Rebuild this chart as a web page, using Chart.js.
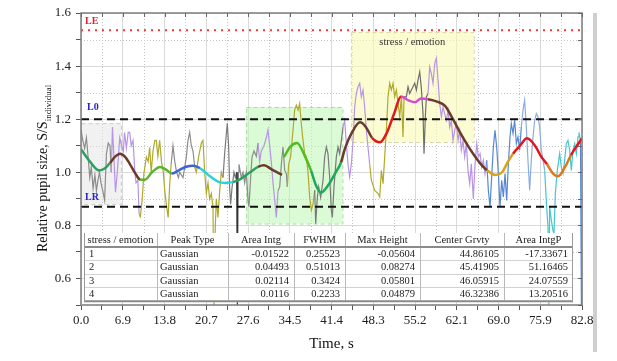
<!DOCTYPE html>
<html>
<head>
<meta charset="utf-8">
<script src="https://cdn.jsdelivr.net/npm/chart.js@4"></script>
<style>
html, body { margin: 0; padding: 0; background: #fff; }
</style>
</head>
<body>
<canvas id="myChart" width="617" height="361"></canvas>
<script>
const SERIF = '"Liberation Serif", "Times New Roman", serif';

// raw pupil signal (time, s / relative size)
const rawT = [0.0,0.3,0.6,0.9,1.2,1.45,1.7,2.0,2.3,2.55,2.8,3.05,3.3,3.6,3.9,4.2,4.5,4.8,5.0,5.2,5.45,5.7,6.0,6.4,6.7,7.0,7.2,7.5,7.8,8.05,8.3,8.6,8.9,9.1,9.4,9.6,9.8,
  10.1,10.4,10.8,11.1,11.35,11.6,11.9,12.2,12.45,12.7,13.0,13.3,13.6,13.85,14.1,14.4,14.65,14.9,15.2,15.5,15.8,16.1,16.3,16.86,17.41,17.68,17.96,18.23,18.51,18.8,19.06,19.45,19.89,
  20.16,20.44,20.71,20.99,21.26,21.54,21.81,21.98,22.2,22.37,22.64,22.92,23.19,23.47,23.74,24.02,24.18,24.4,24.57,24.73,24.95,25.28,25.5,25.73,25.84,25.95,26.11,26.5,26.77,27.05,27.32,27.6,27.76,28.04,28.26,28.59,28.98,29.25,29.53,29.8,
  30.24,30.63,30.9,31.18,31.45,31.73,32.0,32.28,32.56,32.84,33.11,33.39,33.66,33.94,34.1,34.32,34.65,35.04,35.31,35.59,35.87,36.14,36.42,36.69,36.97,37.24,37.52,37.79,38.07,38.34,38.62,38.79,39.06,39.28,39.61,
  40.0,40.27,40.55,40.82,41.1,41.37,41.54,41.81,42.2,42.48,42.75,43.03,43.3,43.58,43.85,44.13,44.4,44.68,44.96,45.23,45.51,45.78,46.06,46.33,46.61,46.88,47.16,47.43,47.71,47.99,48.54,49.09,49.37,49.64,49.92,
  50.19,50.47,50.74,51.02,51.29,51.57,51.84,52.12,52.4,52.67,52.95,53.22,53.39,53.77,54.05,54.32,54.6,54.87,55.15,55.43,55.7,55.98,56.25,56.53,56.69,56.91,57.08,57.35,57.63,57.9,58.18,58.46,58.73,59.01,59.28,59.56,59.83,
  60.11,60.38,60.66,60.93,61.21,61.48,61.76,62.04,62.31,62.59,62.86,63.14,63.41,63.69,63.96,64.24,64.51,64.84,65.12,65.4,65.67,65.95,66.22,66.5,66.77,67.05,67.32,67.6,67.87,68.15,68.42,68.7,68.98,69.25,69.53,69.8,
  70.08,70.35,70.63,70.9,71.12,71.4,71.67,71.95,72.22,72.5,72.77,73.05,73.32,73.6,73.87,74.15,74.42,74.7,74.98,75.25,75.53,75.8,76.08,76.35,76.63,76.9,77.18,77.34,77.45,77.73,78.0,78.17,78.39,78.72,79.11,79.38,79.66,79.93,
  80.21,80.48,80.76,81.04,81.31,81.59,81.86,82.14,82.3,82.55,82.7];
const rawV = [1.16,1.12,1.09,1.13,1.05,0.98,1.02,0.94,0.99,0.93,0.97,1.0,0.96,0.93,0.895,1.07,1.11,1.10,1.0,1.17,1.05,0.925,1.0,1.13,1.10,1.08,1.15,1.09,1.15,1.15,1.10,1.12,1.0,0.96,0.97,0.845,0.83,
  0.895,0.996,1.057,1.04,1.094,1.0,1.08,1.12,1.12,1.06,1.12,1.04,1.0,0.93,0.88,0.83,0.95,1.03,1.10,1.04,1.0,0.98,1.0,0.98,1.057,1.12,1.15,1.10,1.08,1.02,1.0,1.06,1.11,
  1.12,1.0,0.92,0.96,0.90,0.92,0.868,0.5,0.80,0.90,0.83,0.93,1.0,0.98,1.07,1.145,1.185,1.10,0.94,0.88,0.94,1.0,0.98,1.0,0.5,1.0,1.03,0.98,1.0,0.96,1.0,0.895,0.87,0.98,1.057,1.08,1.06,1.11,1.04,1.08,
  1.10,1.13,1.16,1.10,1.04,0.96,0.90,0.83,0.93,0.945,1.03,1.095,1.008,0.995,0.945,1.03,1.058,1.16,1.234,1.253,1.234,1.259,1.18,1.12,1.07,1.058,1.0,0.907,0.857,0.88,0.932,0.806,0.905,0.945,0.905,
  0.97,1.058,1.095,1.07,0.982,0.857,0.83,0.945,1.058,1.095,1.07,1.12,1.17,1.196,1.108,1.03,0.982,1.03,1.12,1.246,1.297,1.322,1.335,1.284,1.31,1.246,1.158,1.095,1.03,0.97,0.932,0.92,0.907,1.007,0.957,
  1.058,1.158,1.284,1.335,1.31,1.335,1.284,1.31,1.259,1.209,1.284,1.133,1.284,1.284,1.322,1.297,1.31,1.322,1.335,1.31,1.347,1.378,1.316,1.22,1.07,1.209,1.284,1.297,1.397,1.372,1.335,1.41,1.43,1.347,1.259,1.209,1.246,
  1.22,1.196,1.234,1.17,1.196,1.12,1.158,1.184,1.12,1.158,1.083,1.12,1.058,1.108,1.007,0.957,1.032,0.90,1.03,1.108,1.058,1.07,1.02,1.045,0.995,1.045,0.932,0.869,0.982,1.095,1.158,1.095,0.995,0.869,0.97,0.907,
  0.995,0.894,1.032,1.133,1.183,1.146,1.196,1.108,1.133,1.083,1.171,1.234,1.271,1.171,1.045,0.932,1.045,1.133,1.196,1.221,1.209,1.171,1.083,1.05,1.007,0.894,0.794,0.5,0.87,0.82,0.781,0.77,0.92,1.007,1.07,1.02,0.995,1.045,
  1.108,1.12,1.083,1.007,1.083,1.108,1.07,1.133,1.15,1.12,0.5];
// where the raw trace changes colour (s)
const rawBreaks = [0, 5.0, 9.8, 14.9, 18.8, 23.3, 25.73, 25.95, 29.1, 32.56, 34.0, 38.5, 43.1, 47.6, 53.3, 57.2, 66.9, 72.6, 76.4, 82.4];
const rawColors = ['#8c8c8c','#b894e6','#b0aa2a','#8c8c8c','#b0aa2a','#7a7a7a','#333333','#8c8c8c','#b894e6','#8c8c8c','#b0aa2a','#7a7a7a','#b894e6','#b0aa2a','#6e6e6e','#b894e6','#5587d6','#8badde','#45c6cf','#5587d6'];

// fitted smooth curve
const fitT = [0.0,1.49,2.97,3.97,4.79,5.6,6.45,7.3,8.1,9.0,9.75,10.58,11.73,13.06,14.05,15.04,16.36,17.52,18.51,19.67,21.32,22.64,23.8,25.12,26.28,27.93,29.25,30.24,31.57,33.22,33.4,
  33.55,34.54,35.7,37.02,38.01,38.84,39.67,40.82,41.98,42.97,43.63,44.79,46.11,47.1,48.09,49.41,50.57,51.73,52.89,54.04,55.2,56.19,57.35,58.84,60.16,61.48,62.64,63.8,64.95,66.11,
  67.1,68.42,69.58,70.57,71.4,72.55,73.71,75.04,76.03,77.02,78.01,78.84,80.0,80.98,81.97,82.8];
const fitV = [1.087,1.04,1.007,1.015,1.035,1.058,1.07,1.058,1.03,0.995,0.973,0.972,1.0,1.02,1.01,0.995,1.01,1.022,1.025,1.015,0.985,0.965,0.96,0.963,0.973,1.0,1.02,1.026,1.01,0.99,null,
  1.057,1.095,1.11,1.06,1.007,0.95,0.924,0.95,0.995,1.037,1.09,1.15,1.188,1.17,1.13,1.113,1.15,1.22,1.285,1.272,1.264,1.278,1.275,1.266,1.25,1.2,1.15,1.105,1.065,1.03,
  1.008,0.99,1.0,1.04,1.07,1.1,1.128,1.1,1.06,1.03,0.995,0.985,1.02,1.065,1.1,1.128];
const fitBreaks = [0, 4.79, 9.75, 15.04, 19.67, 25.12, 29.25, 33.55, 38.01, 42.97, 48.09, 52.89, 57.35, 67.1, 71.4, 77.02, 80.98];
const fitColors = ['#2f9e63','#6b3b2b','#5ab52a','#3c62d6','#2ad2dc','#2aa25c','#6b3b2b','#52be1e','#1ea85b','#6b3b2b','#e4161b','#d64bd6','#6b3b2b','#d9a21a','#e4161b','#e07818','#e4161b'];

// reference levels
const levelNames = ['LE', 'L0', 'LR'];
const levelValues = [1.535, 1.2, 0.87];

// shaded regions
const boxT0 = [0, 27.3, 44.6];
const boxT1 = [6.6, 43.2, 64.9];
const boxLo = [0.88, 0.807, 1.114];
const boxHi = [1.185, 1.246, 1.528];
const boxText = ['', '', 'stress / emotion'];

// table
const tableHead = ['stress / emotion', 'Peak Type', 'Area Intg', 'FWHM', 'Max Height', 'Center Grvty', 'Area IntgP'];
const tableRows = [
  ['1', 'Gaussian', '-0.01522', '0.25523', '-0.05604', '44.86105', '-17.33671'],
  ['2', 'Gaussian', '0.04493', '0.51013', '0.08274', '45.41905', '51.16465'],
  ['3', 'Gaussian', '0.02114', '0.3424', '0.05801', '46.05915', '24.07559'],
  ['4', 'Gaussian', '0.0116', '0.2233', '0.04879', '46.32386', '13.20516']
];

function colorAt(breaks, colors, t) {
  let c = colors[0];
  for (let i = 0; i < breaks.length; i++) {
    if (t >= breaks[i] - 1e-9) c = colors[i];
  }
  return c;
}

const levelStyle = [
  { color: '#f03a3a', dash: [2, 5], label: '#e0202a' },
  { color: '#111111', dash: [8, 5], label: '#2424c8' },
  { color: '#111111', dash: [8, 5], label: '#2424c8' }
];
const boxFill = ['rgba(228,228,228,0.5)', 'rgba(190,245,180,0.55)', 'rgba(250,250,180,0.6)'];
const boxEdge = ['#cccccc', '#a8dca0', '#d8d8a8'];

function line(ctx, x1, y1, x2, y2) {
  ctx.beginPath(); ctx.moveTo(x1, y1); ctx.lineTo(x2, y2); ctx.stroke();
}

const backPlugin = {
  id: 'back',
  beforeDatasetsDraw(chart) {
    const { ctx, chartArea: a, scales: { x, y } } = chart;
    ctx.save();
    // minor dotted grid
    ctx.strokeStyle = '#c4c4c4';
    ctx.lineWidth = 1;
    ctx.setLineDash([1, 2]);
    x.ticks.forEach((tk, i) => {
      if (i % 2) { const px = Math.round(x.getPixelForValue(tk.value)) + 0.5; line(ctx, px, a.top, px, a.bottom); }
    });
    y.ticks.forEach(tk => {
      if (Math.round(tk.value * 10) % 2) { const py = Math.round(y.getPixelForValue(tk.value)) + 0.5; line(ctx, a.left, py, a.right, py); }
    });
    // shaded regions
    for (let i = 0; i < boxT0.length; i++) {
      const x0 = x.getPixelForValue(boxT0[i]), x1 = x.getPixelForValue(boxT1[i]);
      const y0 = y.getPixelForValue(boxHi[i]), y1 = y.getPixelForValue(boxLo[i]);
      ctx.setLineDash([]);
      ctx.fillStyle = boxFill[i];
      ctx.fillRect(x0, y0, x1 - x0, y1 - y0);
      ctx.setLineDash([4, 3]);
      ctx.strokeStyle = boxEdge[i];
      ctx.strokeRect(x0 + 0.5, y0 + 0.5, x1 - x0, y1 - y0);
      if (boxText[i]) {
        ctx.fillStyle = '#333';
        ctx.font = '10.5px ' + SERIF;
        ctx.textAlign = 'center';
        ctx.textBaseline = 'middle';
        ctx.fillText(boxText[i], (x0 + x1) / 2, y0 + 10);
      }
    }
    ctx.restore();
  }
};

const frontPlugin = {
  id: 'front',
  afterDatasetsDraw(chart) {
    const { ctx, chartArea: a, scales: { x, y } } = chart;
    ctx.save();
    ctx.setLineDash([]);

    // level labels
    ctx.font = 'bold 10px ' + SERIF;
    ctx.textAlign = 'left';
    ctx.textBaseline = 'middle';
    levelNames.forEach((n, i) => {
      ctx.fillStyle = levelStyle[i].label;
      const off = i === 1 ? 12 : 9;
      ctx.fillText(n, a.left + (i === 1 ? 6 : 4), y.getPixelForValue(levelValues[i]) - off);
    });

    // table
    const cols = [84, 157, 228, 294, 345, 420, 504, 573];
    const top = 233, headH = 14, rowH = 13.3;
    const bottom = top + headH + rowH * tableRows.length;
    ctx.fillStyle = '#fff';
    ctx.fillRect(cols[0], top, cols[cols.length - 1] - cols[0], bottom - top + 2);
    ctx.lineWidth = 1;
    ctx.strokeStyle = '#d2d2d2';
    for (let r = 1; r < tableRows.length; r++) {
      const yy = Math.round(top + headH + rowH * r) + 0.5;
      line(ctx, cols[0], yy, cols[cols.length - 1], yy);
    }
    ctx.strokeStyle = '#b8b8b8';
    for (let c = 1; c < cols.length - 1; c++) line(ctx, cols[c] + 0.5, top, cols[c] + 0.5, bottom);
    ctx.strokeStyle = '#8a8a8a';
    ctx.lineWidth = 2;
    line(ctx, cols[0], top + headH, cols[cols.length - 1], top + headH);
    line(ctx, cols[0], bottom + 1, cols[cols.length - 1], bottom + 1);
    ctx.lineWidth = 1;
    ctx.strokeStyle = '#9a9a9a';
    line(ctx, cols[0] + 0.5, top, cols[0] + 0.5, bottom + 2);
    line(ctx, cols[cols.length - 1] - 0.5, top, cols[cols.length - 1] - 0.5, bottom + 2);

    ctx.fillStyle = '#222';
    ctx.font = '10.5px ' + SERIF;
    ctx.textBaseline = 'middle';
    tableHead.forEach((h, c) => {
      ctx.textAlign = 'center';
      ctx.fillText(h, (cols[c] + cols[c + 1]) / 2, top + headH / 2);
    });
    tableRows.forEach((row, r) => {
      const yy = top + headH + rowH * r + rowH / 2 + 0.5;
      row.forEach((v, c) => {
        if (c < 2) { ctx.textAlign = 'left'; ctx.fillText(v, cols[c] + (c === 0 ? 5 : 3), yy); }
        else { ctx.textAlign = 'right'; ctx.fillText(v, cols[c + 1] - 5, yy); }
      });
    });

    // frame
    ctx.strokeStyle = '#7d7d7d';
    ctx.lineWidth = 1.5;
    ctx.strokeRect(a.left, a.top, a.right - a.left, a.bottom - a.top);
    ctx.lineWidth = 1;
    ctx.strokeStyle = '#666';
    x.ticks.forEach(tk => { const px = Math.round(x.getPixelForValue(tk.value)) + 0.5; line(ctx, px, a.top, px, a.top + 4); });
    y.ticks.forEach(tk => { const py = Math.round(y.getPixelForValue(tk.value)) + 0.5; line(ctx, a.right - 4, py, a.right, py); });

    // axis titles
    ctx.fillStyle = '#111';
    ctx.font = '15px ' + SERIF;
    ctx.textAlign = 'center';
    ctx.textBaseline = 'alphabetic';
    ctx.fillText('Time, s', (a.left + a.right) / 2, 348);

    ctx.translate(47, 252);
    ctx.rotate(-Math.PI / 2);
    ctx.textAlign = 'left';
    ctx.font = '14px ' + SERIF;
    const main = 'Relative pupil size, S/S';
    ctx.fillText(main, 0, 0);
    const w = ctx.measureText(main).width;
    ctx.font = '9px ' + SERIF;
    ctx.fillText('individual', w, 4);
    ctx.setTransform(1, 0, 0, 1, 0, 0);

    // right edge strip of the figure
    ctx.fillStyle = '#cfcfcf';
    ctx.fillRect(593, 13, 4, 339);
    ctx.restore();
  }
};

const ctx = document.getElementById('myChart').getContext('2d');

const datasets = [];
levelValues.forEach((v, i) => {
  datasets.push({
    data: [{ x: 0, y: v }, { x: 82.8, y: v }],
    borderColor: levelStyle[i].color,
    borderDash: levelStyle[i].dash,
    borderWidth: 2,
    pointRadius: 0,
    order: 0
  });
});
datasets.push({
  data: fitT.map((t, i) => ({ x: t, y: fitV[i] })),
  borderWidth: 2.5,
  pointRadius: 0,
  cubicInterpolationMode: 'monotone',
  spanGaps: false,
  borderColor: fitColors[0],
  segment: { borderColor: c => colorAt(fitBreaks, fitColors, c.p0.parsed.x) },
  order: 1
});
datasets.push({
  data: rawT.map((t, i) => ({ x: t, y: rawV[i] })),
  borderWidth: 1.2,
  pointRadius: 0,
  tension: 0,
  borderColor: rawColors[0],
  segment: { borderColor: c => colorAt(rawBreaks, rawColors, c.p0.parsed.x) },
  order: 2
});

let myChart = new Chart(ctx, {
  type: 'line',
  data: { datasets: datasets },
  options: {
    responsive: false,
    animation: false,
    layout: { padding: { top: 13, right: 35, left: 0, bottom: 0 } },
    plugins: { legend: { display: false }, tooltip: { enabled: false } },
    scales: {
      x: {
        type: 'linear', min: 0, max: 82.8,
        afterFit: s => { s.height = 56; },
        ticks: {
          stepSize: 3.45, autoSkip: false, maxRotation: 0, padding: 3, color: '#222',
          font: { family: SERIF, size: 13 },
          callback: (v, i) => i % 2 === 0 ? v.toFixed(1) : ''
        },
        grid: { color: c => c.index % 2 === 0 ? '#d9d9d9' : 'rgba(0,0,0,0)', tickColor: '#555', tickLength: 5 },
        border: { display: false }
      },
      y: {
        min: 0.5, max: 1.6,
        afterFit: s => { s.width = 81; },
        ticks: {
          stepSize: 0.1, padding: 5, color: '#222',
          font: { family: SERIF, size: 13 },
          callback: v => Math.round(v * 10) % 2 === 0 ? v.toFixed(1) : ''
        },
        grid: { color: c => Math.round(c.tick.value * 10) % 2 === 0 ? '#d9d9d9' : 'rgba(0,0,0,0)', tickColor: '#555', tickLength: 5 },
        border: { display: false }
      }
    }
  },
  plugins: [backPlugin, frontPlugin]
});
</script>
</body>
</html>
